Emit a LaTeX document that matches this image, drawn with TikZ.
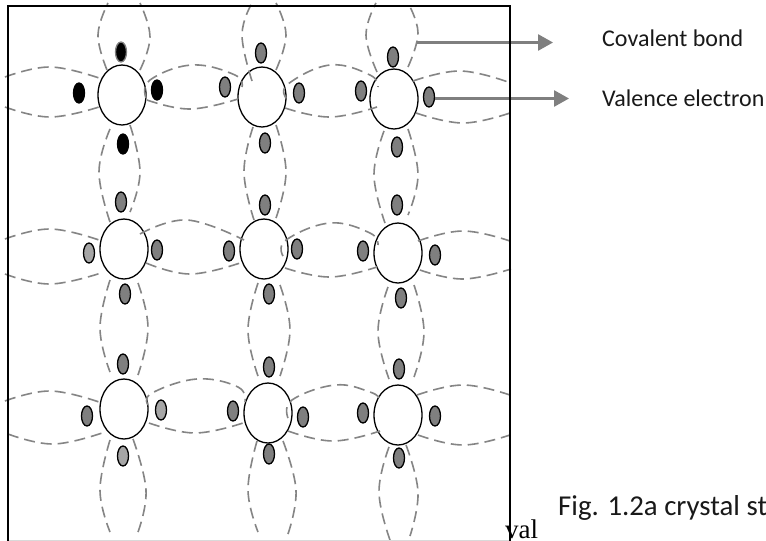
\documentclass[tikz,border=0pt]{standalone}
\usepackage{fontspec}
\setmainfont{Carlito}
\newfontfamily\serifpart{Liberation Serif}
\usetikzlibrary{shapes.geometric,arrows.meta}
\definecolor{bondgray}{HTML}{858585}
\definecolor{egray}{HTML}{7F7F7F}
\definecolor{elight}{HTML}{A6A6A6}
\tikzset{
  atom/.style={ellipse,draw=black,line width=1.3pt,fill=white,minimum width=48pt,minimum height=60pt,inner sep=0pt},
  elec/.style={ellipse,draw=black,line width=1.3pt,fill=egray,minimum width=11pt,minimum height=20pt,inner sep=0pt},
  elecl/.style={elec,fill=elight},
  elecb/.style={elec,fill=black},
  bondline/.style={draw=bondgray,line width=1.6pt,dash pattern=on 11pt off 6pt},
  pointer/.style={draw=egray,line width=2.7pt,-{Triangle[length=15pt,width=16pt]}},
  frameline/.style={draw=black,line width=2pt},
  lbl/.style={inner sep=0pt,anchor=base west,text=black!90,font=\fontsize{24}{28}\selectfont}
}
\newcommand{\bnd}[1]{\draw[bondline] plot[smooth,tension=0.7] coordinates {#1};}
\begin{document}
\begin{tikzpicture}[x=1pt,y=-1pt]
\useasboundingbox (0,0) rectangle (766,541);
\fill[white] (0,0) rectangle (766,541);
% atoms
\node[atom] (a11) at (122,95) {};
\node[atom] (a12) at (262,97) {};
\node[atom] (a13) at (394,99) {};
\node[atom] (a21) at (124,249) {};
\node[atom] (a22) at (264,249) {};
\node[atom] (a23) at (398,253) {};
\node[atom] (a31) at (124,409) {};
\node[atom] (a32) at (268,413) {};
\node[atom] (a33) at (398,415) {};
% horizontal bonds, row 1
\bnd{(5,77) (50,67) (99,78)}
\bnd{(5,107) (50,117) (99,107)}
\bnd{(146,98) (150,80) (192,65) (235,75) (242,87)}
\bnd{(147,100) (190,109) (238,99)}
\bnd{(286,98) (288,84) (330,65) (370,75) (378,87)}
\bnd{(285,108) (330,117) (377,107)}
\bnd{(413,81) (460,71) (508,82)}
\bnd{(416,113) (463,123) (510,113)}
% horizontal bonds, row 2
\bnd{(5,239) (50,229) (99,240)}
\bnd{(5,274) (50,284) (101,273)}
\bnd{(140,234) (187,220) (244,240)}
\bnd{(146,263) (190,274) (240,263)}
\bnd{(283,256) (286,240) (330,223) (370,233) (378,245)}
\bnd{(285,268) (330,277) (377,267)}
\bnd{(418,241) (463,231) (510,241)}
\bnd{(420,270) (463,279) (511,269)}
% horizontal bonds, row 3
\bnd{(5,401) (50,391) (99,402)}
\bnd{(8,434) (53,444) (102,433)}
\bnd{(148,405) (152,393) (197,379) (238,387) (245,402)}
\bnd{(149,423) (195,433) (243,423)}
\bnd{(288,418) (292,400) (335,385) (370,392) (380,399)}
\bnd{(288,431) (333,441) (380,431)}
\bnd{(417,395) (463,385) (510,395)}
\bnd{(418,435) (463,445) (510,435)}
% vertical bonds, top
\bnd{(107,70) (98,35) (108,3)}
\bnd{(140,70) (150,37) (140,3)}
\bnd{(252,81) (242,35) (252,3)}
\bnd{(276,70) (286,35) (276,3)}
\bnd{(377,72) (366,35) (376,3)}
\bnd{(408,67) (418,33) (408,3)}
% vertical bonds, row 1 to row 2
\bnd{(110,129) (99,172) (110,222)}
\bnd{(130,125) (140,172) (130,212)}
\bnd{(253,127) (244,172) (254,220)}
\bnd{(276,125) (286,172) (276,218)}
\bnd{(384,131) (374,175) (385,223)}
\bnd{(408,129) (418,175) (408,215)}
% vertical bonds, row 2 to row 3
\bnd{(110,280) (100,328) (110,372)}
\bnd{(138,283) (148,328) (138,375)}
\bnd{(258,283) (248,330) (258,376)}
\bnd{(280,285) (290,330) (280,376)}
\bnd{(388,287) (378,332) (389,379)}
\bnd{(414,285) (424,332) (414,377)}
% vertical bonds, bottom
\bnd{(110,440) (100,490) (110,532)}
\bnd{(133,439) (146,490) (138,532)}
\bnd{(257,441) (248,490) (258,532)}
\bnd{(283,441) (296,490) (288,534)}
\bnd{(389,447) (379,492) (390,540)}
\bnd{(406,445) (418,492) (410,536)}
% electrons
\node[elecb,draw=egray] (e11t) at (121,52) {};
\node[elecb] (e11l) at (79,93) {};
\node[elecb] (e11r) at (157,90) {};
\node[elecb] (e11b) at (123,144) {};
\node[elec] (e12l) at (225,87) {};
\node[elec] (e12t) at (261,53) {};
\node[elec] (e12r) at (299,93) {};
\node[elec] (e12b) at (265,143) {};
\node[elec] (e13l) at (361,91) {};
\node[elec] (e13t) at (393,57) {};
\node[elec] (e13r) at (429,97) {};
\node[elec] (e13b) at (397,147) {};
\node[elec] (e21t) at (121,202) {};
\node[elecl] (e21l) at (89,253) {};
\node[elec] (e21r) at (157,250) {};
\node[elec] (e21b) at (125,294) {};
\node[elec] (e22t) at (265,205) {};
\node[elec] (e22l) at (229,251) {};
\node[elec] (e22r) at (297,249) {};
\node[elec] (e22b) at (269,294) {};
\node[elec] (e23t) at (397,205) {};
\node[elec] (e23l) at (363,251) {};
\node[elec] (e23r) at (435,255) {};
\node[elec] (e23b) at (401,298) {};
\node[elec] (e31t) at (123,364) {};
\node[elec] (e31l) at (87,416) {};
\node[elecl] (e31r) at (161,410) {};
\node[elecl] (e31b) at (123,456) {};
\node[elec] (e32t) at (269,367) {};
\node[elec] (e32l) at (233,411) {};
\node[elec] (e32r) at (303,417) {};
\node[elec] (e32b) at (269,454) {};
\node[elec] (e33t) at (399,369) {};
\node[elec] (e33l) at (363,413) {};
\node[elec] (e33r) at (435,416) {};
\node[elec] (e33b) at (399,458) {};
% pointers
\coordinate (bondstart) at (417,42.5);
\coordinate (bondtip) at (553,42.5);
\coordinate (electip) at (569,98.5);
\draw[pointer] (bondstart) -- (bondtip);
\draw[pointer] (e13r.east |- electip) -- (electip);
% labels
\node[lbl] (lcov) at (602,46) {Covalent bond};
\node[lbl] (lval) at (602,106) {Valence electron};
\node[lbl,font=\fontsize{28.8}{34}\selectfont] (lfig) at (558,515) {Fig. 1.2a crystal st};
\node[inner sep=0pt,anchor=base west,font=\serifpart\fontsize{27}{31}\selectfont] (lv) at (505,538.5) {val};
% frame
\draw[draw=black!15,line width=1pt] (8,540.5) -- (510,540.5);
\draw[frameline] (8,541) -- (8,5.5) -- (510,5.5) -- (510,541);
\end{tikzpicture}
\end{document}
